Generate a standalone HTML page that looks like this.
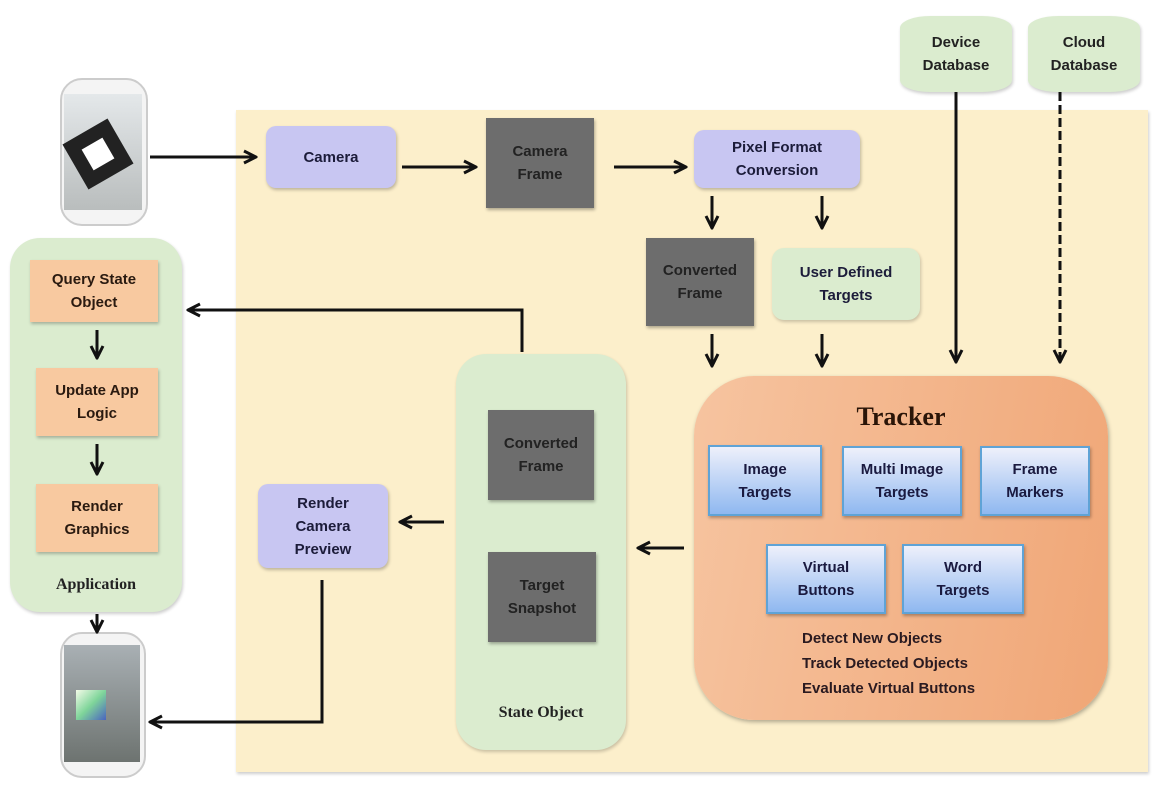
<!DOCTYPE html>
<html><head><meta charset="utf-8"><style>
body{margin:0;width:1156px;height:796px;background:#fff;position:relative;overflow:hidden;font-family:"Liberation Sans",sans-serif;}
.a{position:absolute;box-sizing:border-box;display:flex;align-items:center;justify-content:center;text-align:center;font-weight:bold;font-size:15px;line-height:23px;color:#1c1c3a;}
.lav{background:#c8c6f2;border-radius:10px;box-shadow:1px 2px 3px rgba(0,0,0,.25);}
.gray{background:#6d6d6d;color:#222;box-shadow:1px 2px 3px rgba(0,0,0,.3);}
.grn{background:#dbeccf;border-radius:12px;box-shadow:1px 2px 3px rgba(0,0,0,.2);}
.org{background:#f8c9a0;box-shadow:1px 2px 3px rgba(0,0,0,.25);color:#2a1a10;}
.blue{background:linear-gradient(#eef0fb,#8fb8f0);border:2px solid #5fa3d6;box-shadow:1px 2px 3px rgba(0,0,0,.3);color:#1a1a40;}
.serif{font-family:"Liberation Serif",serif;}
</style></head><body>
<div class="a" style="left:236px;top:110px;width:912px;height:662px;background:#fcefcb;box-shadow:1px 2px 3px rgba(0,0,0,.2)"></div>
<div class="a grn" style="left:900px;top:16px;width:112px;height:76px;border-radius:30px/12px;color:#222">Device<br>Database</div>
<div class="a grn" style="left:1028px;top:16px;width:112px;height:76px;border-radius:30px/12px;color:#222">Cloud<br>Database</div>
<!-- phones -->
<div class="a" style="left:60px;top:78px;width:88px;height:148px;background:#f4f4f4;border:2px solid #ccc;border-radius:22px"></div>
<div class="a" style="left:64px;top:94px;width:78px;height:116px;background:linear-gradient(#e4e8ea,#b9bdbd)"></div>
<div class="a" style="left:72px;top:128px;width:52px;height:52px;background:#222;transform:rotate(-30deg)"><div style="width:24px;height:24px;background:#fff"></div></div>
<div class="a" style="left:60px;top:632px;width:86px;height:146px;background:#f4f4f4;border:2px solid #ccc;border-radius:22px"></div>
<div class="a" style="left:64px;top:645px;width:76px;height:117px;background:linear-gradient(#a9b0b4,#6d7370)"></div>
<div class="a" style="left:76px;top:690px;width:30px;height:30px;background:linear-gradient(135deg,#f4fbe8,#7fd59a,#4a64c0)"></div>
<!-- application -->
<div class="a grn" style="left:10px;top:238px;width:172px;height:374px;border-radius:30px;align-items:flex-end;padding-bottom:16px;font-size:16px;color:#222"><span class="serif">Application</span></div>
<div class="a org" style="left:30px;top:260px;width:128px;height:62px">Query State<br>Object</div>
<div class="a org" style="left:36px;top:368px;width:122px;height:68px">Update App<br>Logic</div>
<div class="a org" style="left:36px;top:484px;width:122px;height:68px">Render<br>Graphics</div>
<!-- top row -->
<div class="a lav" style="left:266px;top:126px;width:130px;height:62px">Camera</div>
<div class="a gray" style="left:486px;top:118px;width:108px;height:90px">Camera<br>Frame</div>
<div class="a lav" style="left:694px;top:130px;width:166px;height:58px">Pixel Format<br>Conversion</div>
<div class="a gray" style="left:646px;top:238px;width:108px;height:88px">Converted<br>Frame</div>
<div class="a grn" style="left:772px;top:248px;width:148px;height:72px">User Defined<br>Targets</div>
<!-- tracker -->
<div class="a" style="left:694px;top:376px;width:414px;height:344px;border-radius:60px;background:linear-gradient(100deg,#f6c4a0,#f0a676);box-shadow:1px 2px 4px rgba(0,0,0,.3)"></div>
<div class="a serif" style="left:694px;top:398px;width:414px;height:36px;font-size:26px;color:#2a1508">Tracker</div>
<div class="a blue" style="left:708px;top:445px;width:114px;height:71px">Image<br>Targets</div>
<div class="a blue" style="left:842px;top:446px;width:120px;height:70px">Multi Image<br>Targets</div>
<div class="a blue" style="left:980px;top:446px;width:110px;height:70px">Frame<br>Markers</div>
<div class="a blue" style="left:766px;top:544px;width:120px;height:70px">Virtual<br>Buttons</div>
<div class="a blue" style="left:902px;top:544px;width:122px;height:70px">Word<br>Targets</div>
<div class="a" style="left:802px;top:626px;width:220px;height:75px;display:block;text-align:left;line-height:25px;font-size:15px;color:#2a1a20">Detect New Objects<br>Track Detected Objects<br>Evaluate Virtual Buttons</div>
<!-- state object -->
<div class="a grn" style="left:456px;top:354px;width:170px;height:396px;border-radius:30px;align-items:flex-end;padding-bottom:26px;font-size:16px;color:#222"><span class="serif">State Object</span></div>
<div class="a gray" style="left:488px;top:410px;width:106px;height:90px">Converted<br>Frame</div>
<div class="a gray" style="left:488px;top:552px;width:108px;height:90px">Target<br>Snapshot</div>
<div class="a lav" style="left:258px;top:484px;width:130px;height:84px">Render<br>Camera<br>Preview</div>
<svg style="position:absolute;left:0;top:0" width="1156" height="796">
<defs><marker id="m" viewBox="0 0 10 10" refX="9" refY="5" markerWidth="5" markerHeight="5" orient="auto"><path d="M1,1 L9,5 L1,9" fill="none" stroke="#111" stroke-width="2"/></marker></defs>
<g stroke="#111" stroke-width="3" fill="none" marker-end="url(#m)">
<path d="M150 157H256"/>
<path d="M402 167H476"/>
<path d="M614 167H686"/>
<path d="M712 196V228"/><path d="M822 196V228"/>
<path d="M712 334V366"/><path d="M822 334V366"/>
<path d="M956 92V362"/>
<path d="M1060 92V362" stroke-dasharray="9,4"/>
<path d="M684 548H638"/>
<path d="M444 522H400"/>
<path d="M522 352V310H188"/>
<path d="M97 330V358"/><path d="M97 444V474"/><path d="M97 614V632"/>
<path d="M322 580V722H150"/>
</g></svg>
</body></html>
